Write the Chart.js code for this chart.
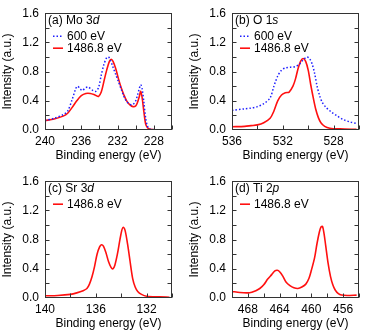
<!DOCTYPE html>
<html>
<head>
<meta charset="utf-8">
<script src="https://cdn.jsdelivr.net/npm/chart.js@4.4.0/dist/chart.umd.min.js"></script>
<style>
  html, body { margin: 0; padding: 0; background: #fff; }
  #wrap { position: relative; width: 374px; height: 336px; }
  canvas { position: absolute; }
</style>
</head>
<body>
<div id="wrap">
  <canvas id="moChart" width="187" height="168" style="left:0;top:0"></canvas>
  <canvas id="oChart" width="187" height="168" style="left:187px;top:0"></canvas>
  <canvas id="srChart" width="187" height="168" style="left:0;top:168px"></canvas>
  <canvas id="tiChart" width="187" height="168" style="left:187px;top:168px"></canvas>
</div>
<script>
// ===== DATA =====
const yTicks = [0, 0.4, 0.8, 1.2, 1.6];

// (a) Mo 3d
const moTicks = [240, 236, 232, 228];
const moE600 = [240, 239, 238, 237.5, 237, 236.6, 236.4, 236.1, 235.9, 235.6, 235.3, 235, 234.7, 234.4, 234.1, 233.8, 233.5, 233.2, 233, 232.8, 232.5, 232.2, 231.9, 231.6, 231.3, 231, 230.6, 230.3, 230, 229.8, 229.6, 229.45, 229.3, 229.1, 228.9, 228.7, 228.4, 226.8];
const moI600 = [0.13, 0.16, 0.21, 0.26, 0.42, 0.57, 0.60, 0.56, 0.54, 0.57, 0.59, 0.57, 0.54, 0.53, 0.58, 0.75, 0.90, 0.99, 1.0, 0.96, 0.86, 0.76, 0.66, 0.56, 0.46, 0.39, 0.35, 0.35, 0.40, 0.48, 0.57, 0.62, 0.57, 0.38, 0.16, 0.05, 0.01, 0.0];
const moE1486 = [240, 239, 238, 237.5, 237, 236.5, 236, 235.5, 235, 234.5, 234.1, 233.8, 233.5, 233.2, 232.9, 232.7, 232.5, 232.2, 231.9, 231.6, 231.3, 231, 230.6, 230.3, 230, 229.8, 229.6, 229.45, 229.3, 229.1, 228.9, 228.7, 228.4, 227.5];
const moI1486 = [0.13, 0.15, 0.19, 0.23, 0.31, 0.40, 0.47, 0.50, 0.50, 0.48, 0.46, 0.52, 0.67, 0.82, 0.94, 0.97, 0.94, 0.84, 0.70, 0.58, 0.48, 0.40, 0.34, 0.32, 0.33, 0.38, 0.46, 0.53, 0.45, 0.25, 0.08, 0.03, 0.01, 0.0];

// (b) O 1s
const oTicks = [536, 532, 528];
const oE600 = [536, 535, 534.5, 534, 533.5, 533, 532.7, 532.4, 532.1, 531.8, 531.4, 531, 530.7, 530.4, 530.1, 529.9, 529.7, 529.5, 529.3, 529.1, 528.9, 528.6, 528.2, 527.7, 527.2, 526.7, 526.2];
const oI600 = [0.27, 0.29, 0.30, 0.32, 0.36, 0.44, 0.60, 0.74, 0.82, 0.85, 0.86, 0.87, 0.90, 0.96, 1.0, 0.98, 0.91, 0.78, 0.60, 0.47, 0.38, 0.31, 0.25, 0.19, 0.14, 0.11, 0.09];
const oE1486 = [536, 535, 534.5, 534, 533.5, 533, 532.7, 532.4, 532.1, 531.8, 531.5, 531.2, 531, 530.8, 530.6, 530.4, 530.2, 530, 529.8, 529.6, 529.4, 529.2, 529, 528.7, 528.3, 527.5, 526.2];
const oI1486 = [0.045, 0.05, 0.06, 0.07, 0.10, 0.16, 0.26, 0.40, 0.48, 0.51, 0.52, 0.60, 0.70, 0.84, 0.94, 0.98, 0.94, 0.82, 0.62, 0.44, 0.28, 0.17, 0.10, 0.05, 0.025, 0.015, 0.01];

// (c) Sr 3d
const srTicks = [140, 136, 132];
const srE1486 = [140, 139, 138, 137.5, 137, 136.7, 136.5, 136.3, 136.1, 135.9, 135.7, 135.55, 135.4, 135.2, 135, 134.8, 134.65, 134.5, 134.3, 134.1, 133.95, 133.85, 133.7, 133.5, 133.3, 133.1, 132.9, 132.7, 132.4, 132, 131, 130.2];
const srI1486 = [0.03, 0.035, 0.05, 0.07, 0.10, 0.13, 0.19, 0.29, 0.43, 0.60, 0.70, 0.73, 0.71, 0.62, 0.50, 0.42, 0.40, 0.45, 0.60, 0.80, 0.93, 0.97, 0.93, 0.74, 0.50, 0.27, 0.15, 0.09, 0.05, 0.025, 0.015, 0.01];

// (d) Ti 2p
const tiTicks = [468, 464, 460, 456];
const tiE1486 = [470, 469, 468, 467.5, 467, 466.5, 466, 465.5, 465, 464.6, 464.3, 464, 463.6, 463.2, 462.7, 462.2, 461.7, 461.2, 460.7, 460.3, 460, 459.6, 459.3, 459, 458.8, 458.6, 458.4, 458.2, 457.9, 457.6, 457.3, 457, 456.6, 456.2, 455.5, 454.3];
const tiI1486 = [0.09, 0.075, 0.07, 0.08, 0.10, 0.13, 0.18, 0.26, 0.32, 0.37, 0.38, 0.36, 0.30, 0.22, 0.17, 0.14, 0.13, 0.15, 0.19, 0.27, 0.38, 0.55, 0.74, 0.90, 0.97, 0.98, 0.88, 0.72, 0.48, 0.30, 0.18, 0.11, 0.06, 0.04, 0.035, 0.04];

const getEl = (id) => document.getElementById(id);
const FONT = "'Liberation Sans', Arial, sans-serif";
Chart.defaults.font.family = FONT;
Chart.defaults.font.size = 12;
Chart.defaults.color = '#000';

const toPoints = (xs, ys) => xs.map((x, i) => ({ x: x, y: ys[i] }));

// ===== PLUGINS =====
// box frame with inward ticks (bottom, left, right)
const frameTicks = {
    id: 'frameTicks',
    afterDraw(chart) {
        const { ctx, chartArea: a, scales: { x, y } } = chart;
        const L = Math.round(a.left) + 0.5, R = Math.round(a.right) - 0.5;
        const T = Math.round(a.top) + 0.5, B = Math.round(a.bottom) - 0.5;
        ctx.save();
        ctx.strokeStyle = '#333';
        ctx.lineWidth = 1;
        ctx.beginPath();
        for (let v = Math.ceil(x.min / 2) * 2; v <= x.max; v += 2) {
            const px = Math.round(x.getPixelForValue(v)) + 0.5;
            ctx.moveTo(px, B); ctx.lineTo(px, B - 4);
        }
        for (let v = 0.2; v < y.max - 0.01; v += 0.2) {
            const py = Math.round(y.getPixelForValue(v)) + 0.5;
            ctx.moveTo(L, py); ctx.lineTo(L + 4, py);
            ctx.moveTo(R, py); ctx.lineTo(R - 4, py);
        }
        ctx.stroke();
        ctx.strokeRect(L, T, R - L, B - T);
        ctx.restore();
    }
};

// panel label + legend inside top-left corner
const panelLegend = {
    id: 'panelLegend',
    afterDraw(chart, args, opts) {
        const { ctx, chartArea: a } = chart;
        ctx.save();
        ctx.textBaseline = 'middle';
        ctx.fillStyle = '#000';
        ctx.font = '12px ' + FONT;
        const tx = a.left + 3, ty = a.top + 7;
        ctx.fillText(opts.title, tx, ty);
        const w = ctx.measureText(opts.title).width;
        ctx.font = 'italic 12px ' + FONT;
        ctx.fillText(opts.orbital, tx + w, ty);
        ctx.font = '12px ' + FONT;
        chart.data.datasets.forEach((ds, i) => {
            const yy = a.top + 23 + i * 12;
            ctx.save();
            ctx.strokeStyle = ds.borderColor;
            ctx.lineWidth = ds.borderWidth;
            ctx.setLineDash(ds.borderDash || []);
            ctx.beginPath();
            ctx.moveTo(a.left + 8, yy);
            ctx.lineTo(a.left + 18, yy);
            ctx.stroke();
            ctx.restore();
            ctx.fillText(ds.label, a.left + 22, yy);
        });
        ctx.restore();
    }
};

// ===== CHART BUILDER =====
const blueSet = (pts) => ({ label: '600 eV', data: pts, borderColor: '#1f1fff', borderWidth: 1.5, borderDash: [1.5, 2], pointRadius: 0, tension: 0.3 });
const redSet = (pts) => ({ label: '1486.8 eV', data: pts, borderColor: '#ff1010', borderWidth: 1.6, pointRadius: 0, tension: 0.3 });

function renderPanel(id, title, orbital, xMin, xMax, xTicks, datasets) {
    return new Chart(getEl(id).getContext('2d'), {
        type: 'line',
        data: { datasets: datasets },
        options: {
            responsive: false,
            animation: false,
            layout: { padding: { left: 0, right: 15, top: 10, bottom: 0 } },
            plugins: {
                legend: { display: false },
                tooltip: { enabled: false },
                panelLegend: { title: title, orbital: orbital }
            },
            scales: {
                x: {
                    type: 'linear', reverse: true, min: xMin, max: xMax,
                    grid: { display: false, drawTicks: false }, border: { display: false },
                    afterBuildTicks: s => { s.ticks = xTicks.map(v => ({ value: v })); },
                    afterFit: s => { s.height = 38; },
                    ticks: { autoSkip: false, maxRotation: 0, padding: 4, callback: v => String(v) },
                    title: { display: true, text: 'Binding energy (eV)', padding: { top: 0, bottom: 5 } }
                },
                y: {
                    min: 0, max: 1.6,
                    grid: { display: false, drawTicks: false }, border: { display: false },
                    afterBuildTicks: s => { s.ticks = yTicks.map(v => ({ value: v })); },
                    afterFit: s => { s.width = 45; },
                    ticks: { autoSkip: false, padding: 6, callback: v => v.toFixed(1) },
                    title: { display: true, text: 'Intensity (a.u.)', padding: { top: 0, bottom: 0 } }
                }
            }
        },
        plugins: [frameTicks, panelLegend]
    });
}

// INIT
renderPanel('moChart', '(a) Mo 3', 'd', 226, 240, moTicks,
    [blueSet(toPoints(moE600, moI600)), redSet(toPoints(moE1486, moI1486))]);
renderPanel('oChart', '(b) O 1', 's', 526, 536, oTicks,
    [blueSet(toPoints(oE600, oI600)), redSet(toPoints(oE1486, oI1486))]);
renderPanel('srChart', '(c) Sr 3', 'd', 130, 140, srTicks,
    [redSet(toPoints(srE1486, srI1486))]);
renderPanel('tiChart', '(d) Ti 2', 'p', 454, 470, tiTicks,
    [redSet(toPoints(tiE1486, tiI1486))]);
</script>
</body>
</html>
